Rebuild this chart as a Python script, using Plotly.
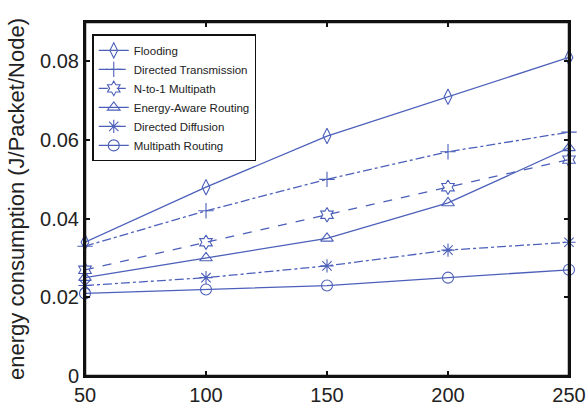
import plotly.graph_objects as go

nodes = [50, 100, 150, 200, 250]
flooding = [0.034, 0.048, 0.061, 0.071, 0.081]
directed_transmission = [0.033, 0.042, 0.050, 0.057, 0.062]
n_to_1 = [0.027, 0.034, 0.041, 0.048, 0.055]
energy_aware = [0.025, 0.030, 0.035, 0.044, 0.058]
directed_diffusion = [0.023, 0.025, 0.028, 0.032, 0.034]
multipath = [0.021, 0.022, 0.023, 0.025, 0.027]
x_ticks = [50, 100, 150, 200, 250]
y_ticks = [0, 0.02, 0.04, 0.06, 0.08]
y_ticklabels = ["0", "0.02", "0.04", "0.06", "0.08"]

series = [
    ("Flooding", flooding, "diamond-tall-open", "solid"),
    ("Directed Transmission", directed_transmission, "cross-thin-open", "dashdot"),
    ("N-to-1 Multipath", n_to_1, "hexagram-open", "dash"),
    ("Energy-Aware Routing", energy_aware, "triangle-up-open", "solid"),
    ("Directed Diffusion", directed_diffusion, "asterisk-open", "dashdot"),
    ("Multipath Routing", multipath, "circle-open", "solid"),
]

FONT = "Liberation Sans, Arial, sans-serif"
color = "rgb(76,96,186)"
fig = go.Figure()
for name, ys, sym, dash in series:
    fig.add_trace(go.Scatter(
        x=nodes, y=ys, name=name, mode="lines+markers",
        line=dict(color=color, width=1.3, dash=dash),
        marker=dict(symbol=sym, size=11, color=color, line=dict(color=color, width=1.1)),
        cliponaxis=False,
    ))

axis_common = dict(
    showline=True, linecolor="#111", linewidth=2, mirror="ticks",
    ticks="inside", ticklen=5, tickcolor="#111", tickwidth=2,
    showgrid=False, zeroline=False,
    tickfont=dict(size=20, color="#222", family=FONT),
)
fig.update_layout(
    xaxis=dict(range=[50, 250], tickvals=x_ticks, **axis_common),
    yaxis=dict(range=[0, 0.09], tickvals=y_ticks, ticktext=y_ticklabels,
               title=dict(text="energy consumption (J/Packet/Node)", standoff=9,
                          font=dict(size=22, color="#222", family=FONT)),
               **axis_common),
)
# plot frame (top/right edges)
fig.add_shape(type="rect", xref="paper", yref="paper", x0=0, y0=0, x1=1, y1=1,
              line=dict(color="#111", width=2.5), layer="above")

fig.update_layout(
    width=586, height=410,
    margin=dict(l=85, r=17, t=22, b=34, autoexpand=False),
    plot_bgcolor="white", paper_bgcolor="white",
    legend=dict(x=0.015, y=0.965, xanchor="left", yanchor="top",
                bgcolor="white", bordercolor="#111", borderwidth=1.5,
                font=dict(size=11.5, color="#222", family=FONT),
                itemwidth=30, tracegroupgap=0),
    showlegend=True,
)
fig.write_html("out.html", config={"displayModeBar": False},
               post_script="document.body.style.margin='0';document.body.style.overflow='hidden';")
